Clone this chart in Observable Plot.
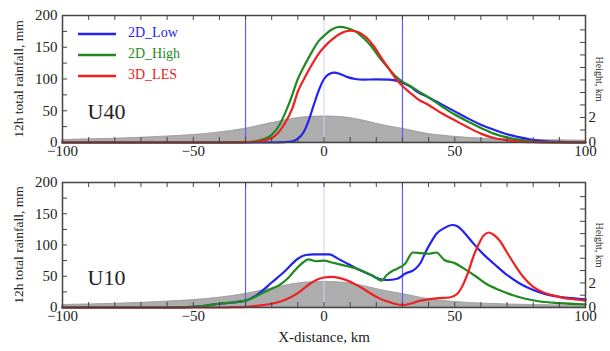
<!DOCTYPE html>
<html><head><meta charset="utf-8">
<script src="https://cdn.jsdelivr.net/npm/d3@7"></script>
<script src="https://cdn.jsdelivr.net/npm/@observablehq/plot@0.6"></script>
<style>
html,body{margin:0;padding:0;background:#fff;}
#chart{position:relative;width:610px;height:351px;overflow:hidden;font-family:"Liberation Serif",serif;background:#fff;}
#chart svg{position:absolute;left:0;}
.leg{position:absolute;font-size:14px;line-height:14px;white-space:nowrap;}
</style></head><body><div id="chart"></div>
<script>
// ---- data ----
const seriesNames = ["2D_Low", "2D_High", "3D_LES"];
const seriesColors = ["#2323ee", "#1f8a1f", "#ee2020"];

const u40Low = [[-100,0],[-40,0],[-20,0],[-15,0.5],[-12,2],[-10,6],[-8,15],[-6,33],[-4,58],[-2,82],[0,100],[2,108],[4,110],[6,108],[9,103],[12,100],[15,99],[20,99.5],[25,99],[28,97],[30,94],[33,88],[36,79],[40,71],[45,60],[50,49],[55,38],[60,28],[65,20],[70,13],[75,8],[80,4],[85,2],[90,1],[95,0.3],[100,0]];
const u40High = [[-100,0],[-40,0],[-30,0.5],[-25,3],[-20,12],[-17,28],[-15,45],[-13,65],[-10,100],[-7,125],[-5,140],[-2,160],[0,168],[3,178],[6,182],[9,180],[12,175],[15,165],[18,152],[21,135],[24,120],[27,106],[30,96],[33,89],[36,81],[40,71],[45,57],[50,44],[55,33],[60,23],[65,14],[70,8],[75,4],[80,1.5],[85,0.5],[90,0],[100,0]];
const u40LES = [[-100,0],[-35,0],[-28,0.5],[-25,2],[-20,7],[-17,18],[-15,30],[-12,55],[-10,80],[-7,105],[-5,120],[-2,140],[0,150],[3,162],[6,171],[10,176],[13,174],[16,166],[19,152],[22,133],[25,115],[28,98],[30,89],[33,78],[36,68],[40,59],[45,46],[50,35],[55,24],[60,14],[65,7],[70,3.5],[75,1.5],[80,0.5],[85,0],[100,0]];

const u10Low = [[-100,0],[-60,0],[-50,1],[-45,3],[-40,6],[-35,8],[-30,11],[-25,22],[-20,40],[-15,58],[-10,78],[-7,84],[-4,85],[0,85],[2,85],[5,79],[9,70],[14,59],[18,52],[21,46],[24,44],[28,46],[31,54],[35,62],[37,72],[39,90],[41,105],[43,118],[46,127],[49,132],[51,130],[54,118],[57,103],[61,85],[65,70],[70,52],[75,38],[80,28],[85,21],[90,17],[95,15],[100,13]];
const u10High = [[-100,0],[-60,0],[-50,1],[-45,3],[-40,6],[-35,8],[-30,11],[-25,20],[-20,30],[-17,36],[-14,46],[-11,60],[-8,72],[-6,77],[-3,74],[0,75],[3,72],[6,69],[9,66],[12,63],[15,58],[18,52],[20,47],[22,43],[24,52],[26,58],[28,62],[31,70],[34,88],[37,87],[40,86],[43,88],[46,76],[50,71],[54,61],[58,50],[62,38],[67,28],[72,20],[77,14],[82,10],[90,7],[100,5]];
const u10LES = [[-100,0],[-40,0],[-35,0.5],[-30,1],[-25,3],[-20,6],[-15,12],[-10,23],[-6,36],[-3,44],[0,48],[3,49],[6,47],[9,43],[12,37],[15,30],[18,22],[21,15],[24,10],[27,6],[30,4],[33,6],[36,10],[40,13],[44,15],[48,16],[51,22],[53,35],[55,55],[57,80],[59,100],[61,115],[63,120],[65,116],[67,108],[70,88],[73,68],[76,50],[80,33],[84,24],[88,19],[92,15],[96,13],[100,11]];

const terrainX = [-100,-90,-80,-70,-60,-50,-40,-30,-20,-10,-5,0,5,10,15,20,25,30,35,40,45,50,60,70,80,90,100];
const terrainH = [0.2,0.25,0.3,0.38,0.48,0.6,0.8,1.1,1.55,1.95,2.05,2.08,2.05,1.95,1.75,1.5,1.28,1.1,0.88,0.68,0.55,0.45,0.32,0.25,0.2,0.17,0.15];

const xTickLabels = [-100,-50,0,50,100];
const xTickMarks = [-90,-80,-70,-60,-50,-40,-30,-20,-10,0,10,20,30,40,50,60,70,80,90];
const yTickLabels = [0,50,100,150,200];
const yTickMarks = [25,50,75,100,125,150,175];
const hTickLabels = [0,2];
const hTickMarks = [1,2,3,4,5,6,7,8,9];
const guideStrong = [-30,30];
const guideFaint = [0];
const mmPerKm = 19.7; // right (height) axis relative to left axis

const terrain = terrainX.map((x,i)=>({x, h: terrainH[i]}));
const toRows = a => a.map(([x,y])=>({x,y}));

const W = 610, ML = 62, MR = 25;
const font = '"Liberation Serif", serif';

function panel({label, series, height, mt, mb, xLabel}) {
  const ph = height - mt - mb, pw = W - ML - MR;
  const marks = [
    Plot.areaY(terrain, {x:"x", y: d => d.h*mmPerKm, fill:"#adadad", stroke:"#959595", strokeWidth:0.8, curve:"monotone-x"}),
    Plot.ruleX(guideFaint, {x: d=>d, stroke:"#cfcfff", strokeWidth:1}),
    Plot.ruleX(guideStrong, {x: d=>d, stroke:"#5c5cff", strokeWidth:1.2}),
    ...series.map((s,i)=>Plot.line(toRows(s), {x:"x", y:"y", stroke: seriesColors[i], strokeWidth:2.2, curve:"monotone-x"})),
    Plot.tickX(xTickMarks, {x:d=>d, insetTop: ph-5, stroke:"#444"}),
    Plot.tickX(xTickMarks, {x:d=>d, insetBottom: ph-5, stroke:"#444"}),
    Plot.tickY(yTickMarks, {y:d=>d, insetRight: pw-5, stroke:"#444"}),
    Plot.tickY(hTickMarks, {y:d=>d*mmPerKm, insetLeft: pw-5, stroke:"#444"}),
    Plot.frame({stroke:"#444", strokeWidth:1.5}),
    Plot.axisX(xTickLabels, {anchor:"bottom", tickSize:0, tickPadding:3, label:null, fontSize:15}),
    Plot.axisY(yTickLabels, {anchor:"left", tickSize:0, tickPadding:5, label:null, fontSize:15}),
    Plot.axisY(hTickLabels.map(d=>d*mmPerKm), {anchor:"right", tickSize:0, tickPadding:3, label:null, fontSize:15, tickFormat: d => String(Math.round(d/mmPerKm))}),
    Plot.text(["12h total rainfall, mm"], {frameAnchor:"left", textAnchor:"middle", rotate:-90, dx:-44, fontSize:13.5}),
    Plot.text(["Height, km"], {frameAnchor:"right", textAnchor:"middle", rotate:90, dx:14, fontSize:10}),
    Plot.text([label], {frameAnchor:"left", textAnchor:"start", dx:25, dy:33, fontSize:22})
  ];
  if (xLabel) marks.push(Plot.text([xLabel], {frameAnchor:"bottom", textAnchor:"middle", dy:34, fontSize:15}));
  return Plot.plot({
    width: W, height, marginLeft: ML, marginRight: MR, marginTop: mt, marginBottom: mb,
    x: {domain:[-100,100]}, y: {domain:[0,200]},
    style: {fontFamily: font, fontSize:"15px", background:"transparent", color:"#222"},
    marks
  });
}

const chart = document.getElementById("chart");
const top1 = panel({label:"U40", series:[u40Low,u40High,u40LES], height:170, mt:15, mb:28});
top1.style.top = "0px";
const bot = panel({label:"U10", series:[u10Low,u10High,u10LES], height:184, mt:15, mb:44, xLabel:"X-distance, km"});
bot.style.top = "167px";
chart.appendChild(top1);
chart.appendChild(bot);

// legend
seriesNames.forEach((name,i)=>{
  const y = 34 + 21*i;
  const ln = document.createElementNS("http://www.w3.org/2000/svg","svg");
  ln.setAttribute("width","40"); ln.setAttribute("height","6");
  ln.style.cssText = `position:absolute;left:77px;top:${y-3}px;`;
  ln.innerHTML = `<line x1="1" x2="39" y1="3" y2="3" stroke="${seriesColors[i]}" stroke-width="2.3"/>`;
  chart.appendChild(ln);
  const t = document.createElement("div");
  t.className = "leg";
  t.textContent = name;
  t.style.cssText += `left:128px;top:${y-8}px;color:${seriesColors[i]};`;
  chart.appendChild(t);
});
</script></body></html>
